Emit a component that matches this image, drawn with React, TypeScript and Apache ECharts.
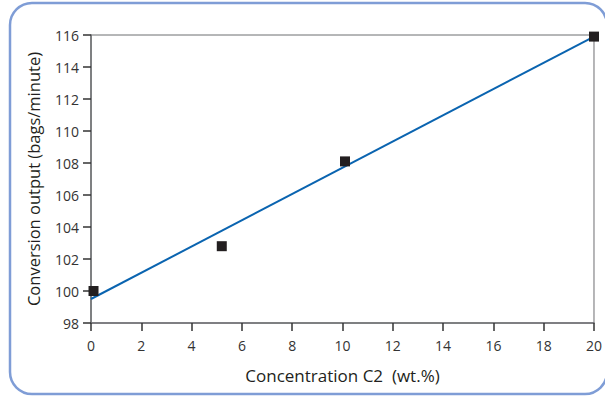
import React, { useEffect, useRef } from "react";
import * as echarts from "echarts";

// Measured conversion output against C2 concentration
const concentration = [0.1, 5.2, 10.1, 20];
const output = [100, 102.8, 108.1, 115.9];
// Fitted trend line end points
const trendX = [0, 20];
const trendY = [99.5, 115.9];

const xTicks = { min: 0, max: 20, step: 2 };
const yTicks = { min: 98, max: 116, step: 2 };

const FONT = "'Open Sans', 'Noto Sans', sans-serif";
const INK = "#231f20";
const AXIS = "#6d6e71";

export default function App() {
  const ref = useRef<HTMLDivElement>(null);

  useEffect(() => {
    if (!ref.current) return;
    const chart = echarts.init(ref.current, null, { renderer: "svg" });
    chart.setOption({
      animation: false,
      backgroundColor: "#ffffff",
      graphic: [
        {
          type: "rect",
          shape: { x: 10, y: 3, width: 597, height: 391, r: 22 },
          style: { fill: "none", stroke: "#7f9dd6", lineWidth: 2.5 },
          z: -1,
        },
      ],
      grid: {
        left: 91,
        top: 35,
        width: 505,
        height: 288,
        show: true,
        borderColor: AXIS,
        borderWidth: 1,
      },
      xAxis: {
        type: "value",
        min: xTicks.min,
        max: xTicks.max,
        interval: xTicks.step,
        name: "Concentration C2  (wt.%)",
        nameLocation: "middle",
        nameGap: 44,
        nameTextStyle: { fontFamily: FONT, fontSize: 17, color: INK },
        axisLine: { show: true, lineStyle: { color: AXIS, width: 1.5 } },
        axisTick: { show: true, inside: false, length: 8, lineStyle: { color: "#333", width: 1.5 } },
        axisLabel: { margin: 15, fontFamily: FONT, fontSize: 14, color: "#333" },
        splitLine: { show: false },
      },
      yAxis: {
        type: "value",
        min: yTicks.min,
        max: yTicks.max,
        interval: yTicks.step,
        name: "Conversion output (bags/minute)",
        nameLocation: "middle",
        nameGap: 49,
        nameTextStyle: { fontFamily: FONT, fontSize: 16.5, color: INK },
        axisLine: { show: true, lineStyle: { color: AXIS, width: 1.5 } },
        axisTick: { show: true, inside: false, length: 8, lineStyle: { color: "#333", width: 1.5 } },
        axisLabel: { margin: 12, fontFamily: FONT, fontSize: 14, color: "#333" },
        splitLine: { show: false },
      },
      series: [
        {
          type: "line",
          data: trendX.map((x, i) => [x, trendY[i]]),
          showSymbol: false,
          lineStyle: { color: "#0a64b0", width: 2 },
          z: 2,
        },
        {
          type: "scatter",
          data: concentration.map((x, i) => [x, output[i]]),
          symbol: "rect",
          symbolSize: 10,
          itemStyle: { color: INK, opacity: 1 },
          z: 3,
        },
      ],
    });
    return () => chart.dispose();
  }, []);

  return (
    <div
      ref={ref}
      style={{ position: "fixed", left: 0, top: 0, width: 605, height: 396 }}
    />
  );
}
